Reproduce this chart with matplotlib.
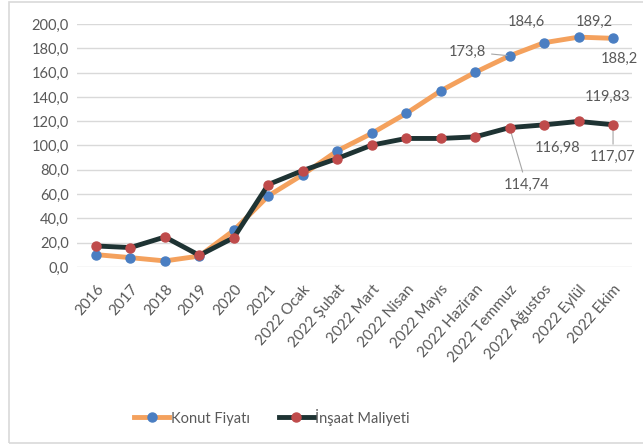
import numpy as np
import matplotlib.pyplot as plt
from matplotlib.patches import Rectangle

categories = ["2016", "2017", "2018", "2019", "2020", "2021", "2022 Ocak", "2022 Şubat",
              "2022 Mart", "2022 Nisan", "2022 Mayıs", "2022 Haziran", "2022 Temmuz",
              "2022 Ağustos", "2022 Eylül", "2022 Ekim"]
konut = [10.2, 7.7, 5.0, 9.0, 30.2, 58.5, 76.0, 95.6, 110.0, 126.4, 145.0, 160.2,
         173.8, 184.6, 189.2, 188.2]
insaat = [17.3, 16.0, 24.7, 9.6, 24.2, 67.9, 79.4, 89.3, 100.3, 105.8, 105.8, 107.1,
          114.74, 116.98, 119.83, 117.07]
yticks = [0, 20, 40, 60, 80, 100, 120, 140, 160, 180, 200]

plt.rcParams['font.family'] = ['Lato', 'DejaVu Sans']
txt = '#595959'

W, H = 643, 445
fig = plt.figure(figsize=(W / 100, H / 100), dpi=100)
ax = fig.add_axes([77 / W, 1 - 267 / H, (632 - 77) / W, (267 - 24) / H])

# outer frame
fig.patches.append(Rectangle((9 / W, 2 / H), 1.0, 441 / H, transform=fig.transFigure,
                             fill=False, edgecolor='#d9d9d9', lw=1.2))

x = np.arange(len(categories))
ax.plot(x, konut, color='#F4A15D', lw=3.5, marker='o', ms=6.5,
        mfc='#4A7EC2', mec='#4A7EC2', label='Konut Fiyatı', zorder=3)
ax.plot(x, insaat, color='#1E3333', lw=3.5, marker='o', ms=6.5,
        mfc='#BF4B4B', mec='#BF4B4B', label='İnşaat Maliyeti', zorder=4)

ax.set_xlim(-0.55, len(categories) - 0.45)
ax.set_ylim(0, 200)
ax.set_yticks(yticks)
ax.set_yticklabels([f"{v:.1f}".replace('.', ',') for v in yticks], fontsize=10.5, color=txt)
ax.set_xticks(x)
ax.set_xticklabels(categories, rotation=49, ha='right', rotation_mode='anchor',
                   fontsize=11, color=txt)
ax.tick_params(axis='y', length=0, pad=6)
ax.tick_params(axis='x', length=0, pad=11)
ax.grid(axis='y', color='#d9d9d9', lw=1)
for s in ax.spines.values():
    s.set_visible(False)

def fmt(v, nd):
    return f"{v:.{nd}f}".replace('.', ',')

lab = dict(fontsize=10.5, color=txt, textcoords='offset points')
lead = dict(arrowstyle='-', color='#a6a6a6', lw=0.8)
# Konut Fiyatı labels
ax.annotate(fmt(konut[12], 1), (x[12], konut[12]), xytext=(-17, 3), ha='right', va='center',
            arrowprops=lead, **lab)
ax.annotate(fmt(konut[13], 1), (x[13], konut[13]), xytext=(-13, 15), ha='center', va='center', **lab)
ax.annotate(fmt(konut[14], 1), (x[14], konut[14]), xytext=(11.5, 11), ha='center', va='center', **lab)
ax.annotate(fmt(konut[15], 1), (x[15], konut[15]), xytext=(4.5, -14.5), ha='center', va='center', **lab)
# İnşaat Maliyeti labels
ax.annotate(fmt(insaat[12], 2), (x[12], insaat[12]), xytext=(12, -41), ha='center', va='center',
            arrowprops=lead, **lab)
ax.annotate(fmt(insaat[13], 2), (x[13], insaat[13]), xytext=(9.5, -16.5), ha='center', va='center', **lab)
ax.annotate(fmt(insaat[14], 2), (x[14], insaat[14]), xytext=(21, 18), ha='center', va='center', **lab)
ax.annotate(fmt(insaat[15], 2), (x[15], insaat[15]), xytext=(0, -23), ha='center', va='center',
            arrowprops=lead, **lab)

fig.legend(loc='center', bbox_to_anchor=(272 / W, 1 - 417 / H), ncol=2, frameon=False,
           fontsize=10.5, labelcolor=txt, handlelength=2.4, columnspacing=2.0, handletextpad=0.1)

fig.savefig('out.png', dpi=100, facecolor='white')
